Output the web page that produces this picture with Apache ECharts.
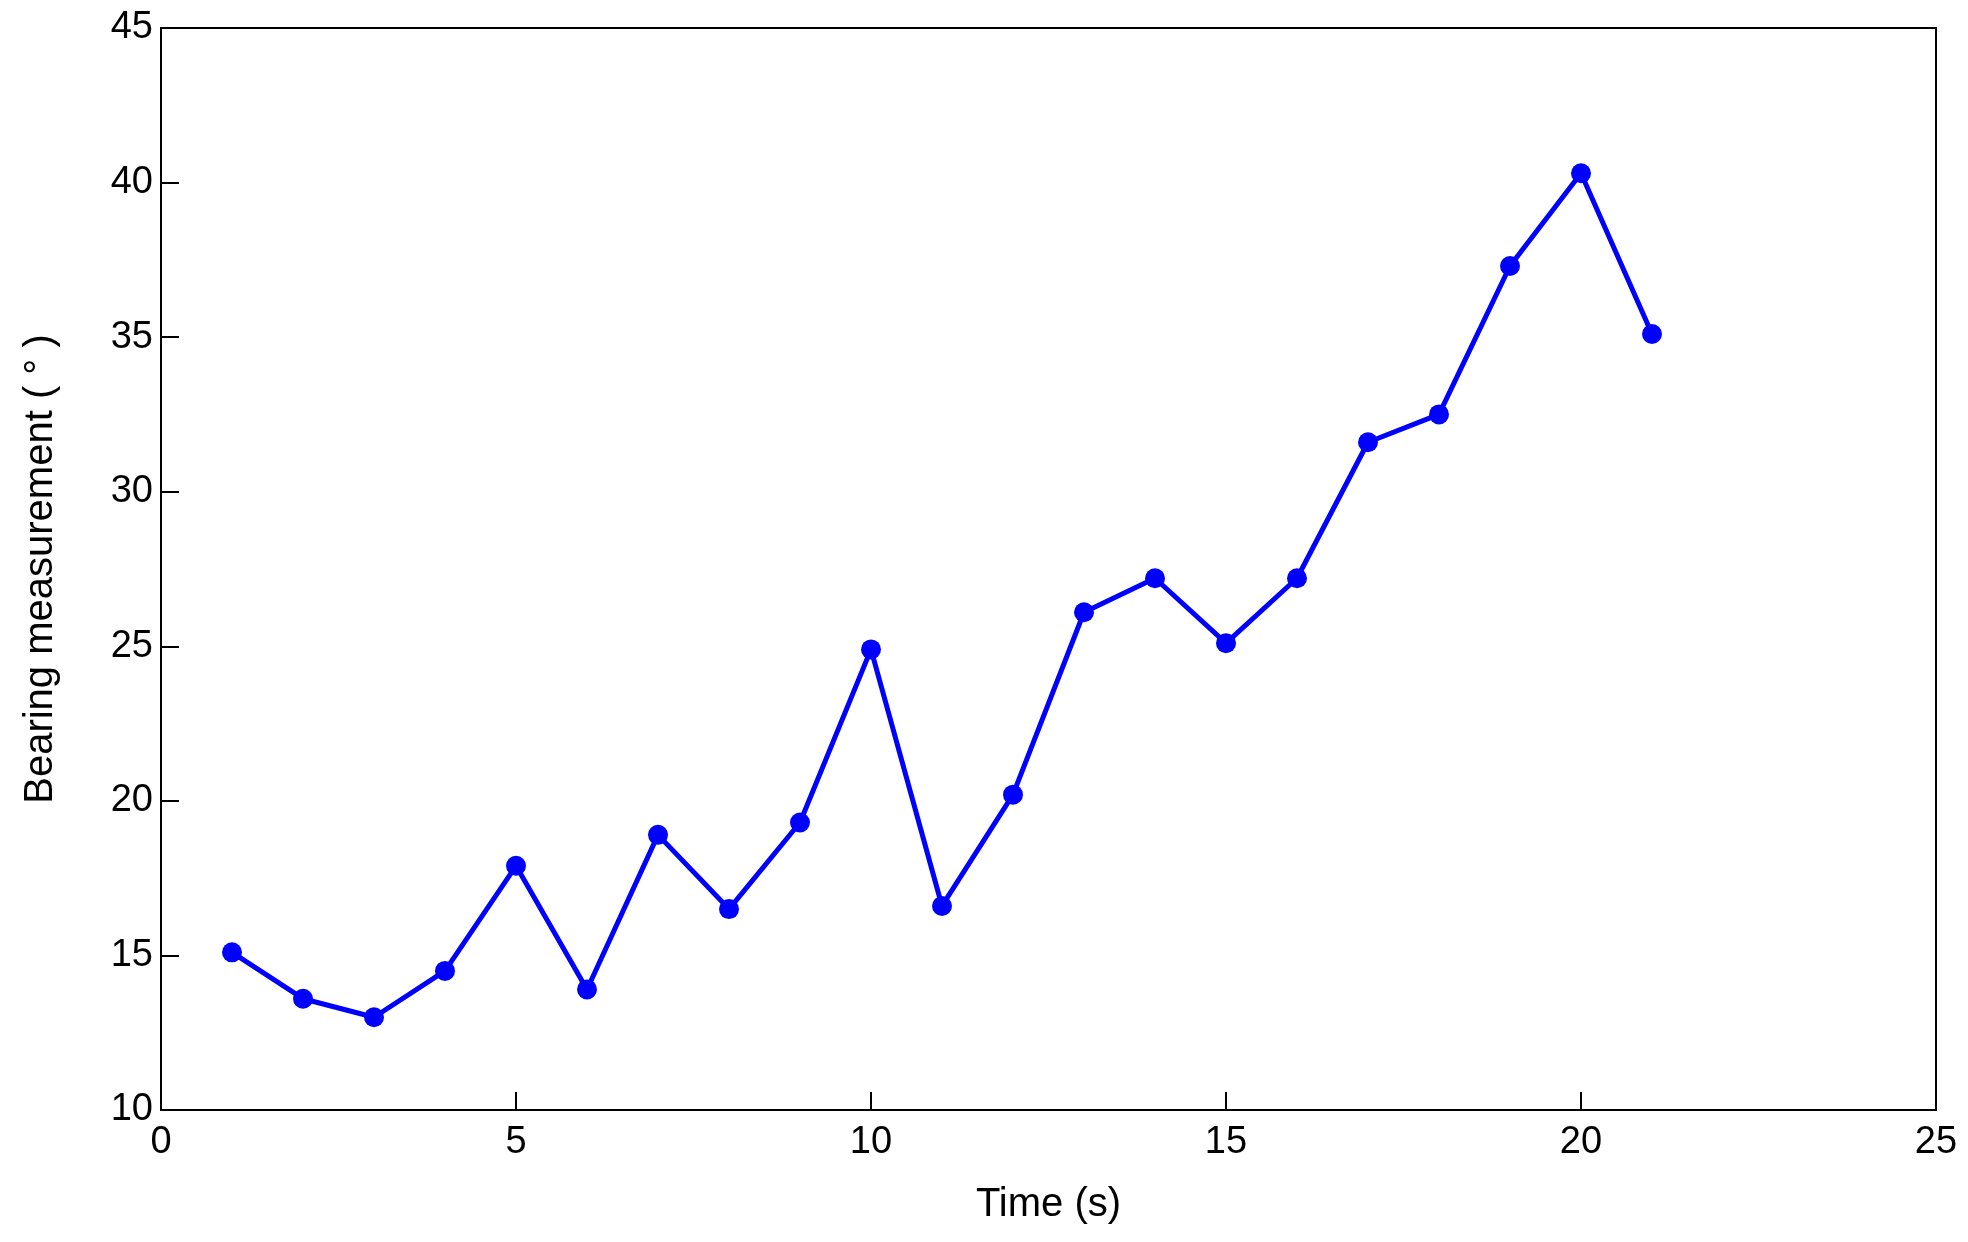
<!DOCTYPE html>
<html>
<head>
<meta charset="utf-8">
<script src="https://cdn.jsdelivr.net/npm/echarts@6/dist/echarts.min.js"></script>
<style>html,body{margin:0;background:#fff}#chart{width:1968px;height:1242px}</style>
</head>
<body>
<div id="chart"></div>
<script>
// 数据
const timeSteps = [1,2,3,4,5,6,7,8,9,10,11,12,13,14,15,16,17,18,19,20,21];
const bearing = [15.1,13.6,13.0,14.5,17.9,13.9,18.9,16.5,19.3,24.9,16.6,20.2,26.1,27.2,25.1,27.2,31.6,32.5,37.3,40.3,35.1];

const chart = echarts.init(document.getElementById('chart'));
const font = 'Liberation Sans, Arial, sans-serif';
const axisCommon = {
    axisLine: {lineStyle: {color: '#000', width: 2}},
    axisTick: {inside: true, length: 18, lineStyle: {color: '#000', width: 2}},
    axisLabel: {color: '#000', fontSize: 38, fontFamily: font},
    splitLine: {show: false},
    nameTextStyle: {color: '#000', fontSize: 40, fontFamily: font}
};
chart.setOption({
    animation: false,
    grid: {left: 161, right: 32, top: 28, bottom: 132, show: true, borderColor: '#000', borderWidth: 2},
    xAxis: Object.assign({
        type: 'value', min: 0, max: 25, interval: 5,
        name: 'Time (s)', nameLocation: 'middle', nameGap: 75
    }, axisCommon, {axisLabel: Object.assign({}, axisCommon.axisLabel, {margin: 14})}),
    yAxis: Object.assign({
        type: 'value', min: 10, max: 45, interval: 5,
        name: 'Bearing measurement ( \u00b0 )', nameLocation: 'middle', nameGap: 100
    }, axisCommon),
    series: [{
        type: 'line',
        data: timeSteps.map((t, i) => [t, bearing[i]]),
        color: '#0000ff',
        lineStyle: {width: 5},
        symbol: 'circle',
        symbolSize: 20,
        itemStyle: {color: '#0000ff'}
    }]
});
</script>
</body>
</html>
